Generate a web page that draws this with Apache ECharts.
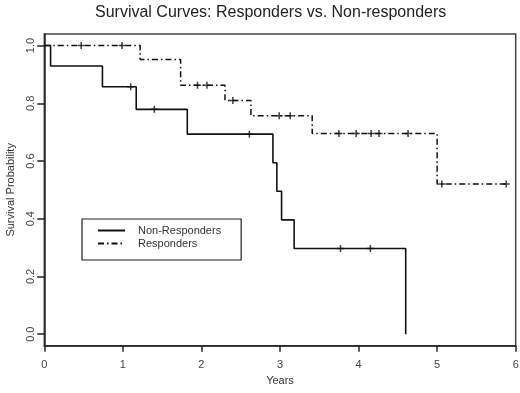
<!DOCTYPE html>
<html>
<head>
<meta charset="utf-8">
<script src="https://cdn.jsdelivr.net/npm/echarts@6/dist/echarts.min.js"></script>
<style>html,body{margin:0;padding:0;background:#fff}#c{width:520px;height:393px}</style>
</head>
<body>
<div id="c"></div>
<script>
// Non-responders (solid)
var nrTimes = [0, 0.08, 0.74, 1.17, 1.82, 2.91, 2.96, 3.02, 3.18, 4.60];
var nrSurv  = [1, 0.929, 0.857, 0.779, 0.693, 0.594, 0.495, 0.396, 0.297, 0];
var nrCensor = [1.10, 1.40, 2.61, 3.77, 4.15];
// Responders (dash-dot)
var rTimes = [0, 1.22, 1.735, 2.30, 2.63, 3.41, 5.00, 5.88];
var rSurv  = [1, 0.952, 0.862, 0.810, 0.757, 0.695, 0.520, 0.520];
var rCensor = [0.47, 0.99, 1.95, 2.07, 2.40, 2.99, 3.13, 3.75, 3.97, 4.16, 4.26, 4.63, 5.06, 5.88];
var xTicks = [0, 1, 2, 3, 4, 5, 6];
var yTicks = [0, 0.2, 0.4, 0.6, 0.8, 1.0];

function pairs(t, s) { return t.map(function (v, i) { return [v, s[i]]; }); }
function censorPts(c, t, s) {
  return c.map(function (x) {
    var k = 0;
    for (var i = 0; i < t.length; i++) { if (t[i] <= x) k = i; }
    return [x, s[k]];
  });
}
var plus = 'path://M-1.5,-7h3v14h-3zM-7,-1.5h14v3h-14z';
var FONT = 'Liberation Sans, Arial, sans-serif';
var chart = echarts.init(document.getElementById('c'));
chart.setOption({
  animation: false,
  backgroundColor: '#fff',
  title: {
    text: 'Survival Curves: Responders vs. Non-responders',
    left: 90, top: 0,
    textStyle: { fontFamily: FONT, fontSize: 16, fontWeight: 'normal', color: '#222' }
  },
  grid: { left: 44.3, right: 4.3, top: 34, bottom: 47.3, containLabel: false, outerBoundsMode: 'none',
    show: true, borderColor: '#444', borderWidth: 1.5 },
  legend: {
    data: ['Non-Responders', 'Responders'],
    orient: 'vertical', left: 82, top: 219,
    padding: [6, 20, 11, 15], itemWidth: 27, itemHeight: 10, itemGap: 2,
    borderColor: '#222', borderWidth: 1.2,
    itemStyle: { opacity: 0 },
    textStyle: { fontFamily: FONT, fontSize: 11, color: '#333', padding: [0, 0, 0, 8] }
  },
  xAxis: {
    type: 'value', min: 0, max: 6, interval: 1,
    name: 'Years', nameLocation: 'middle', nameGap: 30,
    nameTextStyle: { fontFamily: FONT, fontSize: 11, color: '#333' },
    axisLine: { show: true, onZero: false, lineStyle: { color: '#222', width: 1.5 } },
    axisTick: { show: true, length: 6, lineStyle: { color: '#222', width: 1.5 }, customValues: xTicks },
    axisLabel: { fontFamily: FONT, fontSize: 11, color: '#444', margin: 14, customValues: xTicks },
    splitLine: { show: false }
  },
  yAxis: {
    type: 'value', min: -0.04, max: 1.04,
    name: 'Survival Probability', nameLocation: 'middle', nameGap: 28,
    nameTextStyle: { fontFamily: FONT, fontSize: 11, color: '#333' },
    axisLine: { show: true, onZero: false, lineStyle: { color: '#222', width: 1.5 } },
    axisTick: { show: true, length: 7, lineStyle: { color: '#222', width: 1.5 }, customValues: yTicks },
    axisLabel: { fontFamily: FONT, fontSize: 11, color: '#444', rotate: 90, margin: 8,
      customValues: yTicks, formatter: function (v) { return v.toFixed(1); } },
    splitLine: { show: false }
  },
  series: [
    { name: 'Non-Responders', type: 'line', step: 'end', symbol: 'none',
      data: pairs(nrTimes, nrSurv), lineStyle: { color: '#111', width: 1.6 }, itemStyle: { color: '#111' } },
    { name: 'Responders', type: 'line', step: 'end', symbol: 'none',
      data: pairs(rTimes, rSurv),
      lineStyle: { color: '#111', width: 1.5, type: [6, 3, 1.5, 3] }, itemStyle: { color: '#111' } },
    { name: 'nrc', type: 'scatter', symbol: plus, symbolSize: 7,
      data: censorPts(nrCensor, nrTimes, nrSurv), itemStyle: { color: '#111' } },
    { name: 'rc', type: 'scatter', symbol: plus, symbolSize: 7,
      data: censorPts(rCensor, rTimes, rSurv), itemStyle: { color: '#111' } }
  ]
});
</script>
</body>
</html>
